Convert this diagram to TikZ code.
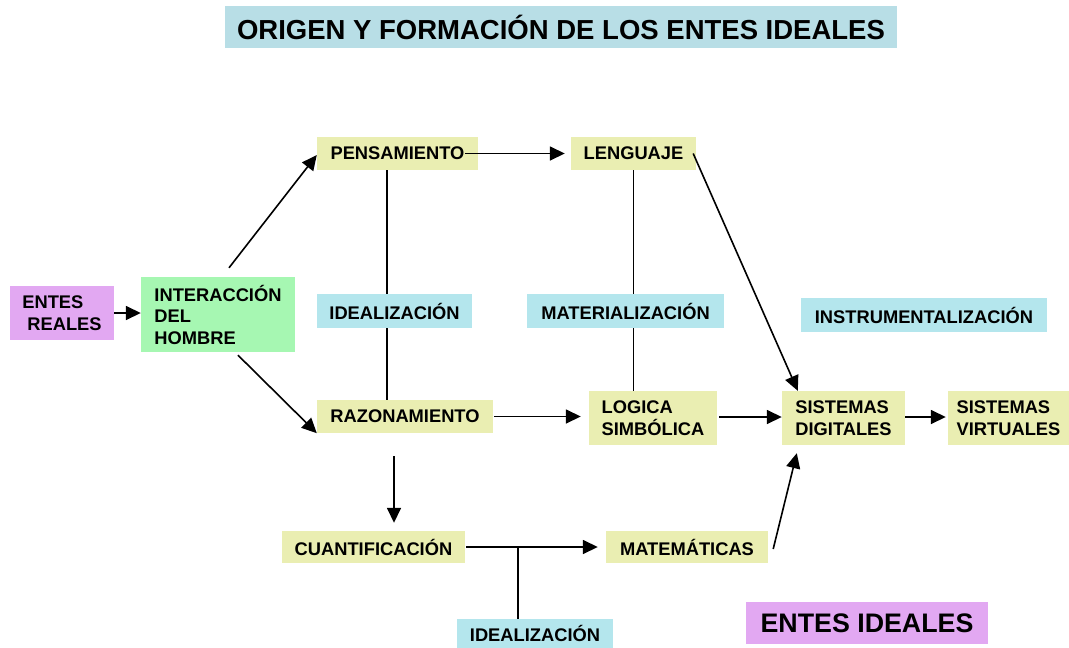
\documentclass[tikz,border=0pt]{standalone}
\usepackage{fontspec}
\setmainfont{Liberation Sans}
\usetikzlibrary{arrows.meta}
\definecolor{cyel}{RGB}{234,238,178}
\definecolor{cblue}{RGB}{180,230,237}
\definecolor{ctitle}{RGB}{184,222,230}
\definecolor{cviol}{RGB}{226,168,242}
\definecolor{cgreen}{RGB}{166,247,178}
\tikzset{
  box/.style={rectangle, inner sep=0pt, anchor=center, align=left,
    font=\bfseries\fontsize{18.3}{21.5}\selectfont},
  ybox/.style={box, fill=cyel},
  bbox/.style={box, fill=cblue},
  conn/.style={line width=1.6pt},
  arr/.style={conn, -{Triangle[length=15pt,width=14pt]}},
}
\begin{document}
\begin{tikzpicture}[x=1pt,y=-1pt]
\useasboundingbox (0,0) rectangle (1069,648);
% title
\node[box, fill=ctitle, minimum width=672, minimum height=42,
  font=\bfseries\fontsize{27.5}{30}\selectfont] (title) at (561,27) {ORIGEN Y FORMACIÓN DE LOS ENTES IDEALES};
% boxes
\node[box, fill=cviol, minimum width=104, minimum height=54] (reales) at (62,313) {ENTES\\\hspace{5pt}REALES};
\node[box, fill=cgreen, minimum width=154, minimum height=75] (inter) at (218,314.5) {INTERACCIÓN\\DEL\\HOMBRE};
\node[ybox, minimum width=161, minimum height=33] (pens) at (397.5,153.5) {PENSAMIENTO};
\node[ybox, minimum width=125, minimum height=33] (leng) at (633.5,153.5) {LENGUAJE};
\node[bbox, minimum width=155, minimum height=34] (ideal1) at (394.5,311) {IDEALIZACIÓN};
\node[bbox, minimum width=197, minimum height=34] (mater) at (625.5,311) {MATERIALIZACIÓN};
\node[bbox, minimum width=246, minimum height=34] (instr) at (924,315) {INSTRUMENTALIZACIÓN};
\node[ybox, minimum width=176, minimum height=33] (razon) at (405,416.5) {RAZONAMIENTO};
\node[ybox, minimum width=128, minimum height=54] (logica) at (653,418) {LOGICA\\SIMBÓLICA};
\node[ybox, minimum width=123, minimum height=54] (sdig) at (843.5,418) {SISTEMAS\\DIGITALES};
\node[ybox, minimum width=121, minimum height=54] (svirt) at (1008.5,418) {SISTEMAS\\VIRTUALES};
\node[ybox, minimum width=183, minimum height=32] (cuant) at (373.5,547) {CUANTIFICACIÓN};
\node[ybox, minimum width=162, minimum height=32] (mate) at (687,547) {MATEMÁTICAS};
\node[bbox, minimum width=156, minimum height=29] (ideal2) at (535,633.5) {IDEALIZACIÓN};
\node[box, fill=cviol, minimum width=242, minimum height=42,
  font=\bfseries\fontsize{26.8}{30}\selectfont] (eideal) at (867,623) {ENTES IDEALES};
% helper coordinates
\coordinate (v1) at (387,300);
\coordinate (v2) at (394,500);
\coordinate (j) at (518,547);
% connectors
\draw[arr] (reales.east) -- (reales.east -| inter.west);
\draw[arr] ([xshift=11pt,yshift=9pt]inter.north) -- ([yshift=-1.5pt]pens.west);
\draw[arr] ([xshift=20pt,yshift=-3pt]inter.south) -- (razon.south west);
\draw[arr] ([xshift=-13pt]pens.east) -- ([xshift=-6pt]leng.west);
\draw[conn] (pens.south -| v1) -- (ideal1.north -| v1);
\draw[conn] (ideal1.south -| v1) -- (razon.north -| v1);
\draw[conn] (leng.south) -- (leng.south |- mater.north);
\draw[conn] (mater.south -| leng.south) -- (leng.south |- logica.north);
\draw[arr] ([xshift=-3pt]leng.east) -- ([xshift=16pt]sdig.north west);
\draw[arr] ([xshift=1pt]razon.east) -- ([xshift=-8pt]logica.west |- razon.east);
\draw[arr] ([xshift=2pt,yshift=1pt]logica.east) -- ([yshift=1pt]sdig.west);
\draw[arr] ([yshift=1pt]sdig.east) -- ([xshift=-2pt,yshift=1pt]svirt.west);
\draw[arr] ([yshift=-23pt]razon.south -| v2) -- ([yshift=8pt]cuant.north -| v2);
\draw[arr] ([xshift=1pt]cuant.east) -- ([xshift=-8pt]mate.west);
\draw[conn] (j) -- (ideal2.north -| j);
\draw[arr] ([xshift=5pt,yshift=-2pt]mate.east) -- ([xshift=15pt,yshift=-8pt]sdig.south west);
\end{tikzpicture}
\end{document}
